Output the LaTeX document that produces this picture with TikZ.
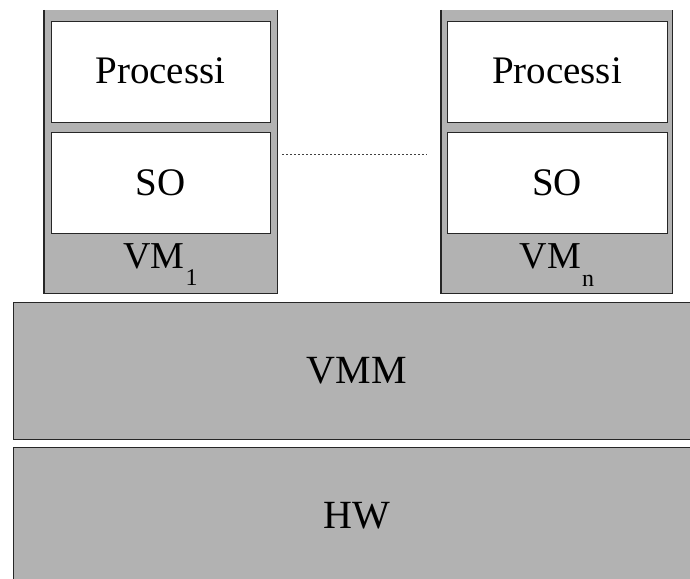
\documentclass[tikz,border=0pt]{standalone}
\usepackage{fontspec}
\setmainfont{Liberation Serif}
\begin{document}
\begin{tikzpicture}[x=1pt,y=-1pt,
  layer/.style={fill=black!30, draw=black!85, line width=1.2pt, inner sep=0pt, anchor=north west},
  vmbox/.style={fill=black!30, draw=none, inner sep=0pt, anchor=north west},
  inbox/.style={fill=white, draw=black!85, line width=1.2pt, inner sep=0pt, anchor=north west},
  lbl/.style={inner sep=0pt, anchor=base, font=\fontsize{39}{39}\selectfont},
  biglbl/.style={inner sep=0pt, anchor=base, font=\fontsize{40}{40}\selectfont},
  edge/.style={draw=black!85, line width=1.2pt},
  dots/.style={draw=black!75, line width=1pt, dash pattern=on 2pt off 2pt}
]
\useasboundingbox (0,0) rectangle (690,578);

% virtual machine 1
\node[vmbox, minimum width=233pt, minimum height=283pt] (vm1) at (44,10) {};
\draw[edge] (vm1.north west) -- (vm1.south west) -- (vm1.south east) -- (vm1.north east);
\node[inbox, minimum width=219pt, minimum height=101pt] (proc1) at (51,21) {};
\node[inbox, minimum width=219pt, minimum height=101pt] (so1) at (51,132) {};
\node[lbl] (proc1t) at (160.5,83) {Processi};
\node[lbl] (so1t) at (160.5,195) {SO};
\node[lbl, font=\fontsize{38}{38}\selectfont] (vm1t) at (160.5,268)
  {VM\kern1pt\raisebox{-17pt}{\fontsize{24}{24}\selectfont 1}};

% virtual machine n
\node[vmbox, minimum width=231pt, minimum height=283pt] (vmn) at (441,10) {};
\draw[edge] (vmn.north west) -- (vmn.south west) -- (vmn.south east) -- (vmn.north east);
\node[inbox, minimum width=220pt, minimum height=101pt] (procn) at (447,21) {};
\node[inbox, minimum width=220pt, minimum height=101pt] (son) at (447,132) {};
\node[lbl] (procnt) at (557,83) {Processi};
\node[lbl] (sont) at (557,195) {SO};
\node[lbl, font=\fontsize{38}{38}\selectfont] (vmnt) at (557,268)
  {VM\kern1pt\raisebox{-18pt}{\fontsize{24}{24}\selectfont n}};

% ellipsis between the machines
\coordinate (dotsa) at (282,154);
\coordinate (dotsb) at (427,154);
\draw[dots] (dotsa) -- (dotsb);

% monitor and hardware layers
\node[layer, minimum width=690pt, minimum height=137pt] (vmm) at (13,302) {};
\node[biglbl] (vmmt) at (357,383) {VMM};
\node[layer, minimum width=690pt, minimum height=140pt] (hw) at (13,447) {};
\node[biglbl] (hwt) at (357,528) {HW};
\end{tikzpicture}
\end{document}
